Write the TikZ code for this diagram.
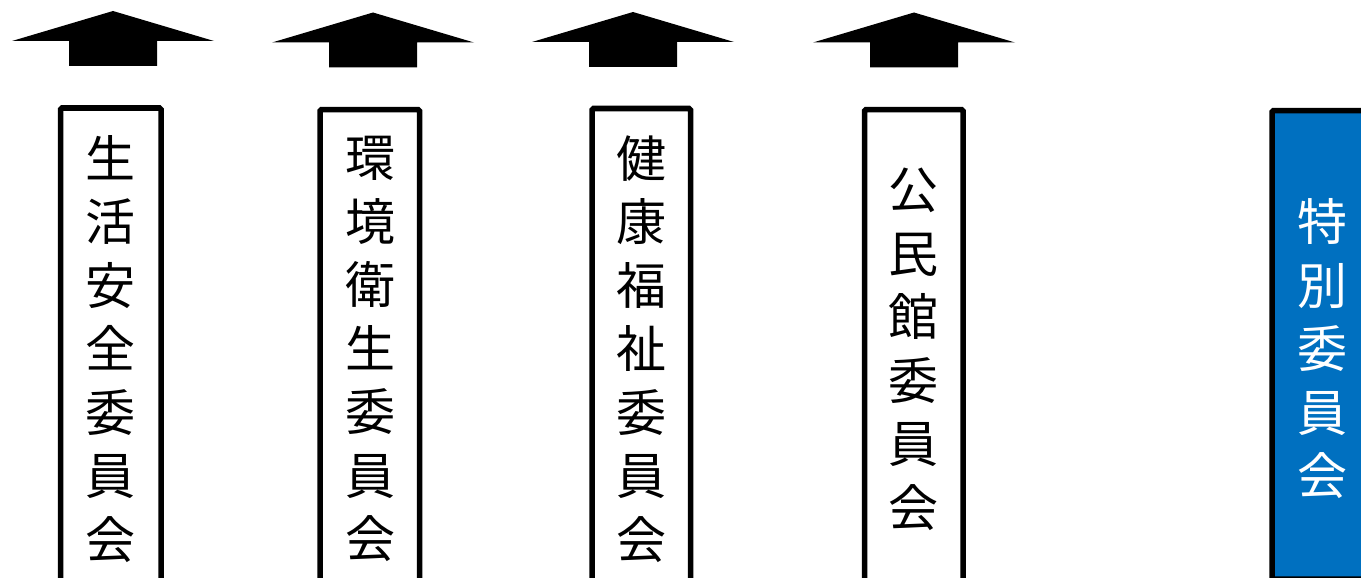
\documentclass[tikz,border=0pt]{standalone}
\usepackage{fontspec}
\newfontfamily\cjk{Noto Sans CJK JP}
\definecolor{boxblue}{RGB}{0,112,192}
\tikzset{
  uparrow/.style={fill=black, draw=none},
  colbox/.style={draw=black, line width=5.5pt, rounded corners=1.5pt, inner sep=0pt, outer sep=0pt, anchor=north west},
  vtext/.style={font=\cjk\fontsize{50}{63.5}\selectfont, align=center, inner sep=0pt, text=black},
}
\newcommand{\uparr}[3]{% name, tip x, tip y
  \fill[uparrow] (#2,#3) -- (#2+101,#3+30) -- (#2+44,#3+30) -- (#2+44,#3+55)
    -- (#2-44,#3+55) -- (#2-44,#3+30) -- (#2-101,#3+30) -- cycle;
}
\begin{document}
\begin{tikzpicture}[x=1pt,y=-1pt]
\useasboundingbox (0,0) rectangle (1361,578);
% arrows
\uparr{a1}{113}{11}
\uparr{a2}{373}{12.5}
\uparr{a3}{633}{12}
\uparr{a4}{914}{12.5}
% boxes
\node[colbox, minimum width=100.5pt, minimum height=520pt] (b1) at (60.5,108) {};
\node[colbox, minimum width=99.5pt, minimum height=520pt] (b2) at (320,109.5) {};
\node[colbox, minimum width=98.5pt, minimum height=520pt] (b3) at (592,108.5) {};
\node[colbox, minimum width=98.5pt, minimum height=520pt] (b4) at (864.5,109.5) {};
\node[colbox, fill=boxblue, minimum width=100pt, minimum height=468.5pt] (b5) at (1272,110.5) {};
% texts
\node[vtext] (t1) at (110.5,349) {生\\活\\安\\全\\委\\員\\会};
\node[vtext] (t2) at (370,349) {環\\境\\衛\\生\\委\\員\\会};
\node[vtext] (t3) at (641,349) {健\\康\\福\\祉\\委\\員\\会};
\node[vtext] (t4) at (913.5,349.5) {公\\民\\館\\委\\員\\会};
\node[vtext, text=white] (t5) at (1322,349) {特\\別\\委\\員\\会};
\end{tikzpicture}
\end{document}
